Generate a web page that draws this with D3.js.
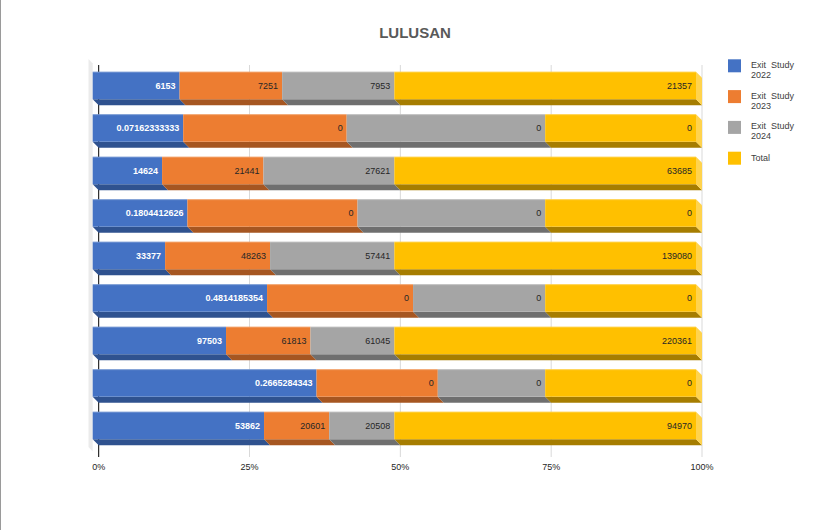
<!DOCTYPE html>
<html>
<head>
<meta charset="utf-8">
<script src="https://cdn.jsdelivr.net/npm/d3@7"></script>
<style>
  body { margin: 0; background: #fff; }
  svg { display: block; font-family: "Liberation Sans", Arial, sans-serif; }
</style>
</head>
<body>
<div id="chart"></div>
<script>

// rows from top to bottom
var rows = ["1", "2", "3", "4", "5", "6", "7", "8", "9"];
var seriesNames = ["Exit  Study 2022", "Exit  Study 2023", "Exit  Study 2024", "Total"];
var seriesKeys = ["s2022", "s2023", "s2024", "total"];

// data labels as shown on the bars
var label2022 = ["6153", "0.07162333333", "14624", "0.1804412626", "33377", "0.4814185354", "97503", "0.2665284343", "53862"];
var label2023 = ["7251", "0", "21441", "0", "48263", "0", "61813", "0", "20601"];
var label2024 = ["7953", "0", "27621", "0", "57441", "0", "61045", "0", "20508"];
var labelTotal = ["21357", "0", "63685", "0", "139080", "0", "220361", "0", "94970"];

// share of each bar (percent)
var share2022 = [14.4, 15.0, 11.5, 15.7, 12.0, 28.9, 22.1, 37.1, 28.4];
var share2023 = [17.0, 27.1, 16.8, 28.2, 17.4, 24.2, 14.0, 20.1, 10.8];
var share2024 = [18.6, 32.9, 21.7, 31.1, 20.6, 21.9, 13.9, 17.8, 10.8];
var shareTotal = [50.0, 25.0, 50.0, 25.0, 50.0, 25.0, 50.0, 25.0, 50.0];

var ticks = ["0%", "25%", "50%", "75%", "100%"];

var colors = ["#4472C4", "#ED7D31", "#A5A5A5", "#FFC000"];
var darkColors = ["#2F528F", "#A65621", "#6F6F6F", "#A67D00"];
var labelColors = ["#ffffff", "#262626", "#262626", "#262626"];

var width = 823, height = 530;
var depthX = 6, depthY = 6;

var table = rows.map(function(r, i) {
  return {
    row: r,
    s2022: share2022[i], s2023: share2023[i], s2024: share2024[i], total: shareTotal[i],
    labels: [label2022[i], label2023[i], label2024[i], labelTotal[i]]
  };
});

var x = d3.scaleLinear()
    .domain([0, 100])
    .range([92.7, 696]);

var y = d3.scaleBand()
    .domain(rows)
    .range([64.2, 446.7])
    .paddingInner(0.353)
    .paddingOuter(0.1765);

var svg = d3.select("#chart").append("svg")
    .attr("width", width)
    .attr("height", height);

// left border of the picture
svg.append("line")
    .attr("x1", 0.5).attr("x2", 0.5)
    .attr("y1", 0).attr("y2", height)
    .attr("stroke", "#9a9a9a");

// title
svg.append("text")
    .attr("x", 415)
    .attr("y", 37.5)
    .attr("text-anchor", "middle")
    .attr("font-size", "15px")
    .attr("font-weight", "bold")
    .attr("fill", "#595959")
    .text("LULUSAN");

// side wall
svg.append("polygon")
    .attr("points", [[88.5, 59], [x(0), 63.5], [x(0), 451.5], [88.5, 447]].join(" "))
    .attr("fill", "#ebebeb");

// gridlines on the back plane
svg.selectAll(".grid")
    .data(ticks)
  .enter().append("line")
    .attr("class", "grid")
    .attr("x1", function(d, i) { return x(i * 25) + depthX; })
    .attr("x2", function(d, i) { return x(i * 25) + depthX; })
    .attr("y1", 65)
    .attr("y2", 457)
    .attr("stroke", function(d, i) { return i === 0 ? "#000000" : "#d9d9d9"; })
    .attr("stroke-width", 1);

svg.selectAll(".tick")
    .data(ticks)
  .enter().append("text")
    .attr("class", "tick")
    .attr("x", function(d, i) { return x(i * 25) + depthX; })
    .attr("y", 470)
    .attr("text-anchor", "middle")
    .attr("font-size", "9px")
    .attr("fill", "#262626")
    .text(function(d) { return d; });

var stacked = d3.stack().keys(seriesKeys)(table);
var h = y.bandwidth();

var rowG = svg.selectAll(".row")
    .data(table)
  .enter().append("g")
    .attr("class", "row");

rowG.each(function(d, i) {
  var g = d3.select(this);
  var top = y(d.row);
  stacked.forEach(function(layer, k) {
    var x0 = x(layer[i][0]), x1 = x(layer[i][1]);
    // bottom face
    g.append("polygon")
        .attr("points", [[x0, top + h], [x1, top + h], [x1 + depthX, top + h + depthY], [x0 + depthX, top + h + depthY]].join(" "))
        .attr("fill", darkColors[k]);
    // end face on the last segment
    if (k === stacked.length - 1) {
      g.append("polygon")
          .attr("points", [[x1, top], [x1 + depthX, top + depthY], [x1 + depthX, top + h + depthY], [x1, top + h]].join(" "))
          .attr("fill", "#FFD34D");
    }
    // front face
    g.append("rect")
        .attr("x", x0)
        .attr("y", top)
        .attr("width", x1 - x0)
        .attr("height", h)
        .attr("fill", colors[k]);
    g.append("line")
        .attr("x1", x0).attr("x2", x1)
        .attr("y1", top + 0.5).attr("y2", top + 0.5)
        .attr("stroke", "#ffffff")
        .attr("stroke-opacity", 0.25);
  });
  stacked.forEach(function(layer, k) {
    var x1 = x(layer[i][1]);
    g.append("text")
        .attr("x", x1 - 4)
        .attr("y", top + h / 2)
        .attr("dy", "0.35em")
        .attr("text-anchor", "end")
        .attr("font-size", "9px")
        .attr("font-weight", k === 0 ? "bold" : "normal")
        .attr("fill", labelColors[k])
        .text(d.labels[k]);
  });
});

// legend
var legend = svg.selectAll(".legend")
    .data(seriesNames)
  .enter().append("g")
    .attr("class", "legend")
    .attr("transform", function(d, i) { return "translate(728," + (59.3 + i * 30.8) + ")"; });

legend.append("rect")
    .attr("width", 13)
    .attr("height", 13)
    .attr("fill", function(d, i) { return colors[i]; });

legend.each(function(d) {
  var g = d3.select(this);
  var parts = d.indexOf("Study") >= 0 ? [d.slice(0, d.lastIndexOf(" ")), d.slice(d.lastIndexOf(" ") + 1)] : [d];
  var t = g.append("text")
      .attr("x", 23)
      .attr("font-size", "9px")
      .attr("fill", "#404040")
      .attr("xml:space", "preserve")
      .style("white-space", "pre");
  parts.forEach(function(p, j) {
    t.append("tspan")
        .attr("x", 23)
        .attr("y", (parts.length === 1 ? 9.5 : 8.5) + j * 10)
        .text(p);
  });
});

</script>
</body>
</html>
